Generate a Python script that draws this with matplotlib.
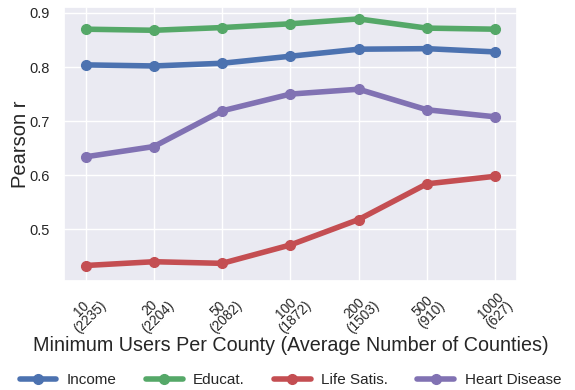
import matplotlib
import matplotlib.pyplot as plt
import seaborn as sns

matplotlib.use("agg")

min_users = ["10", "20", "50", "100", "200", "500", "1000"]
n_counties = ["2235", "2204", "2082", "1872", "1503", "910", "627"]

income = [0.804, 0.802, 0.807, 0.820, 0.833, 0.834, 0.828]
educat = [0.870, 0.868, 0.873, 0.880, 0.889, 0.872, 0.870]
life_satis = [0.433, 0.440, 0.437, 0.471, 0.518, 0.584, 0.598]
heart_disease = [0.634, 0.653, 0.719, 0.750, 0.759, 0.721, 0.708]

series = [income, educat, life_satis, heart_disease]
labels = ["Income", "Educat.", "Life Satis.", "Heart Disease"]

sns.set_theme(style="darkgrid")
plt.rcParams["font.family"] = ["Liberation Sans", "DejaVu Sans"]
colors = sns.color_palette("deep")
colors = [colors[0], colors[2], colors[3], colors[4]]

fig, ax = plt.subplots(figsize=(5.75, 3.9), dpi=100)
fig.subplots_adjust(left=0.111, right=0.899, top=0.982, bottom=0.279)

positions = list(range(len(min_users)))
for i in range(len(series)):
    ax.plot(
        positions,
        series[i],
        color=colors[i],
        linewidth=4,
        marker="o",
        markersize=7,
        label=labels[i],
    )

ax.set_xlim(-0.32, len(positions) - 1 + 0.32)
ax.set_ylim(0.404, 0.911)
ax.set_yticks([0.5, 0.6, 0.7, 0.8, 0.9])
ax.set_xticks(positions)
ax.set_xticklabels(
    [f"{u}\n({c})" for u, c in zip(min_users, n_counties)],
    rotation=45,
    fontsize=9.8,
    linespacing=0.85,
)
ax.tick_params(axis="x", pad=0)
ax.tick_params(axis="y", labelsize=10.5, pad=4)
ax.set_ylabel("Pearson r", fontsize=14.5, labelpad=0)
ax.set_xlabel("Minimum Users Per County (Average Number of Counties)", fontsize=14.2)
ax.xaxis.set_label_coords(0.5, -0.2)

fig.legend(
    loc="lower center",
    bbox_to_anchor=(0.505, -0.028),
    ncol=4,
    fontsize=11,
    frameon=False,
    handlelength=2.4,
    handletextpad=0.7,
    columnspacing=1.9,
)

fig.savefig("out.png", dpi=100)
plt.close()
